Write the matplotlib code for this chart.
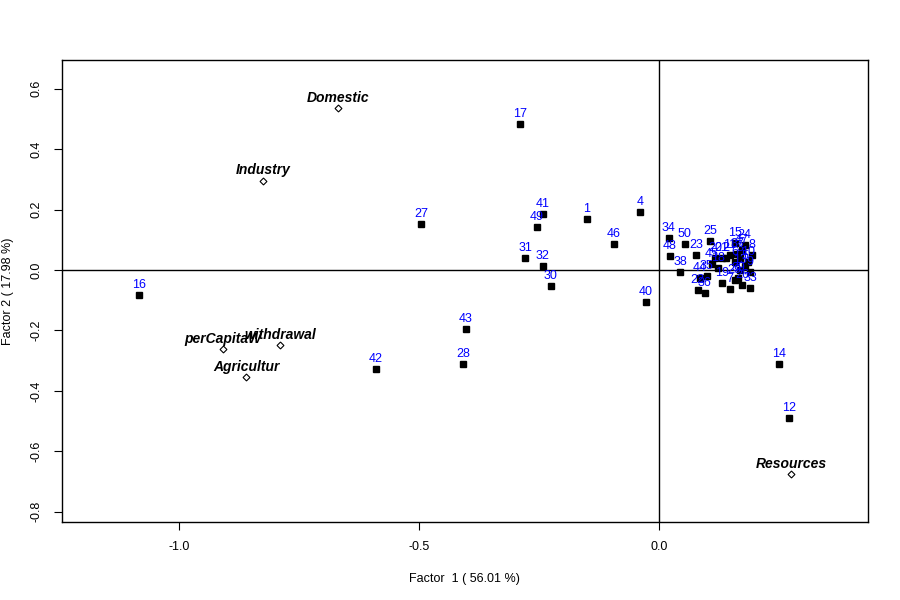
import matplotlib
matplotlib.use("Agg")
import matplotlib.pyplot as plt

plt.rcParams['font.family'] = ['Liberation Sans', 'DejaVu Sans']

# Individuals (factor scores)
ind_labels = ["1", "4", "12", "14", "16", "17", "27", "28", "30", "31", "32", "34",
              "38", "40", "41", "42", "43", "46", "48", "49", "50", "23", "25", "15",
              "20", "18", "21", "11", "2", "37", "47", "3", "10", "9", "24", "6",
              "44", "35", "19", "29", "39", "7", "33", "22", "36", "5", "8", "13",
              "26", "45"]
ind_f1 = [-0.150, -0.040, 0.271, 0.250, -1.083, -0.290, -0.496, -0.408, -0.225, -0.279,
          -0.242, 0.021, 0.044, -0.027, -0.242, -0.590, -0.402, -0.094, 0.023, -0.254,
          0.054, 0.077, 0.106, 0.158, 0.117, 0.123, 0.131, 0.148, 0.140, 0.163,
          0.173, 0.169, 0.185, 0.190, 0.179, 0.158, 0.085, 0.100, 0.131, 0.158,
          0.165, 0.148, 0.190, 0.081, 0.096, 0.179, 0.194, 0.169, 0.173, 0.110]
ind_f2 = [0.169, 0.192, -0.490, -0.311, -0.083, 0.483, 0.152, -0.311, -0.053, 0.040,
          0.013, 0.106, -0.007, -0.106, 0.185, -0.328, -0.195, 0.086, 0.046, 0.142,
          0.086, 0.050, 0.096, 0.089, 0.040, 0.007, 0.040, 0.050, 0.040, 0.053,
          0.066, 0.040, 0.026, -0.007, 0.083, 0.026, -0.026, -0.020, -0.043, -0.033,
          -0.026, -0.063, -0.060, -0.066, -0.076, 0.013, 0.050, 0.000, -0.050, 0.020]

# Variables
var_labels = ["Domestic", "Industry", "perCapitaW", "withdrawal", "Agricultur", "Resources"]
var_f1 = [-0.669, -0.825, -0.908, -0.790, -0.860, 0.275]
var_f2 = [0.536, 0.295, -0.262, -0.248, -0.354, -0.675]

fig = plt.figure(figsize=(9, 6), dpi=100)
ax = fig.add_axes([0.069, 0.13, 0.895, 0.77])

ax.axhline(0, color='black', lw=1)
ax.axvline(0, color='black', lw=1)

ax.plot(ind_f1, ind_f2, 's', color='black', markersize=4, linestyle='none')
for lab, x, y in zip(ind_labels, ind_f1, ind_f2):
    ax.annotate(lab, (x, y), xytext=(0, 7), textcoords='offset points',
                ha='center', va='center', color='blue', fontsize=9)

ax.plot(var_f1, var_f2, 'D', markerfacecolor='white', markeredgecolor='black',
        markersize=3.5, markeredgewidth=0.8, linestyle='none')
for lab, x, y in zip(var_labels, var_f1, var_f2):
    ax.annotate(lab, (x, y), xytext=(0, 7.5), textcoords='offset points',
                ha='center', va='center', color='black', fontsize=10,
                fontweight='bold', fontstyle='italic')

ax.set_xlim(-1.244, 0.435)
ax.set_ylim(-0.834, 0.695)
ax.set_xticks([-1.0, -0.5, 0.0])
ax.set_xticklabels(["-1.0", "-0.5", "0.0"])
ax.set_yticks([-0.8, -0.6, -0.4, -0.2, 0.0, 0.2, 0.4, 0.6])
ax.set_yticklabels(["-0.8", "-0.6", "-0.4", "-0.2", "0.0", "0.2", "0.4", "0.6"],
                   rotation=90, va='center')
ax.tick_params(direction='out', length=6, labelsize=9, pad=8)
for s in ax.spines.values():
    s.set_linewidth(1)

ax.set_xlabel("Factor  1 ( 56.01 %)", fontsize=9, labelpad=14)
ax.set_ylabel("Factor 2 ( 17.98 %)", fontsize=9, labelpad=12)

fig.savefig("out.png", dpi=100)
